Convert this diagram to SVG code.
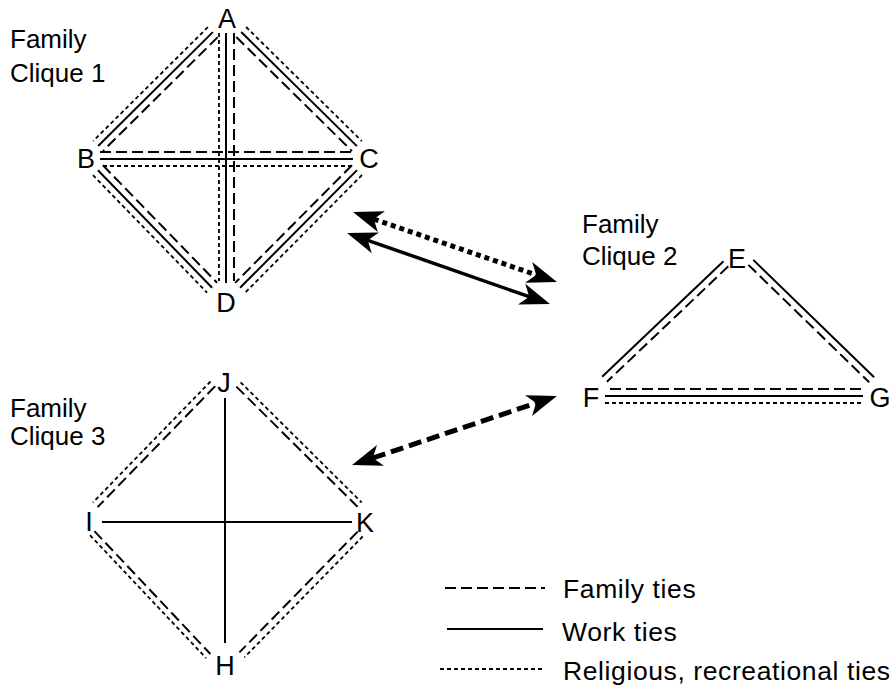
<svg xmlns="http://www.w3.org/2000/svg" width="893" height="693" viewBox="0 0 893 693">
<style>
text{font-family:"Liberation Sans",Arial,Helvetica,sans-serif;font-size:26px;fill:#000}
.lbl{text-anchor:middle;font-size:27px}
.leg{font-size:26.5px;letter-spacing:0.6px}
line{stroke:#000;fill:none}
.fam{stroke-width:2;stroke-dasharray:11 5}
.work{stroke-width:2}
.rel{stroke-width:1.8;stroke-dasharray:4 3}
.arr-dot{stroke-width:5;stroke-dasharray:5 4;marker-start:url(#ah);marker-end:url(#ah)}
.arr-solid{stroke-width:3.5;marker-start:url(#ah);marker-end:url(#ah)}
.arr-dash{stroke-width:5;stroke-dasharray:13 6;marker-start:url(#ah);marker-end:url(#ah)}
</style>
<defs>
<marker id="ah" markerUnits="userSpaceOnUse" markerWidth="32" markerHeight="24" viewBox="0 -12 32 24" refX="8" refY="0" orient="auto-start-reverse" overflow="visible">
<path d="M30,0 L0,-11 L8,0 L0,11 Z" fill="#000"/>
</marker>
</defs>
<rect x="0" y="0" width="893" height="693" fill="#fff"/>

<g id="titles">
<text x="10" y="48">Family</text>
<text x="10" y="82">Clique 1</text>
<text x="582" y="233">Family</text>
<text x="582" y="265">Clique 2</text>
<text x="10" y="417">Family</text>
<text x="10" y="445">Clique 3</text>
</g>

<g id="connectors">
<!-- Clique 1: A-B -->
<line class="rel" x1="207.9" y1="27.1" x2="93.2" y2="141"/>
<line class="work" x1="212.8" y1="32.1" x2="98.1" y2="146"/>
<line class="fam" x1="217.7" y1="37.1" x2="103" y2="151"/>
<!-- A-C -->
<line class="rel" x1="246.1" y1="27" x2="361.8" y2="141.1"/>
<line class="work" x1="241.2" y1="32" x2="356.9" y2="146.1"/>
<line class="fam" x1="236.3" y1="37" x2="352" y2="151.1"/>
<!-- B-D -->
<line class="rel" x1="92.9" y1="175.1" x2="207.1" y2="292.6"/>
<line class="work" x1="97.9" y1="170.2" x2="212.1" y2="287.7"/>
<line class="fam" x1="102.9" y1="165.3" x2="217.1" y2="282.8"/>
<!-- C-D -->
<line class="rel" x1="362" y1="175" x2="245.1" y2="292.7"/>
<line class="work" x1="357" y1="170.1" x2="240.1" y2="287.8"/>
<line class="fam" x1="352" y1="165.2" x2="235.1" y2="282.9"/>
<!-- B-C -->
<line class="fam" x1="100" y1="152" x2="352" y2="152"/>
<line class="work" x1="100" y1="159" x2="353" y2="159"/>
<line class="rel" x1="103" y1="166" x2="351" y2="166"/>
<!-- A-D -->
<line class="rel" x1="219" y1="33" x2="219" y2="281"/>
<line class="work" x1="226" y1="33" x2="226" y2="283"/>
<line class="fam" x1="234" y1="33" x2="234" y2="281"/>

<!-- Clique 2: E-F -->
<line class="work" x1="723.5" y1="261.2" x2="602.1" y2="376.7"/>
<line class="fam" x1="728.3" y1="266.3" x2="606.9" y2="381.8"/>
<!-- E-G -->
<line class="work" x1="753.3" y1="259.9" x2="874.1" y2="377.3"/>
<line class="fam" x1="748.4" y1="264.9" x2="869.2" y2="382.3"/>
<!-- F-G -->
<line class="fam" x1="610" y1="389" x2="863" y2="389"/>
<line class="work" x1="605" y1="396" x2="863" y2="396"/>
<line class="rel" x1="605" y1="403" x2="863" y2="403"/>

<!-- Clique 3: J-I -->
<line class="rel" x1="210.5" y1="381.5" x2="92.9" y2="502.5"/>
<line class="fam" x1="215.2" y1="386.1" x2="97.6" y2="507.1"/>
<!-- J-K -->
<line class="rel" x1="240.6" y1="382.3" x2="361.7" y2="502.5"/>
<line class="fam" x1="236.4" y1="386.6" x2="357.5" y2="506.8"/>
<!-- I-H -->
<line class="rel" x1="90" y1="535.2" x2="206.1" y2="658.1"/>
<line class="fam" x1="94.4" y1="531.1" x2="210.4" y2="654"/>
<!-- K-H -->
<line class="rel" x1="362.7" y1="536.5" x2="244.4" y2="657.3"/>
<line class="fam" x1="357.7" y1="531.6" x2="239.4" y2="652.4"/>
<!-- J-H, I-K -->
<line class="work" x1="225" y1="398" x2="225" y2="643"/>
<line class="work" x1="102" y1="522" x2="352" y2="522"/>

<!-- Between-clique arrows -->
<line class="arr-dot" x1="373.8" y1="219.1" x2="536.2" y2="274.9"/>
<line class="arr-solid" x1="367.8" y1="240.3" x2="529.2" y2="296.7"/>
<line class="arr-dash" x1="372.9" y1="458" x2="536.1" y2="403"/>
</g>

<g id="node-A"><text class="lbl" x="227" y="28">A</text></g>
<g id="node-B"><text class="lbl" x="86" y="168">B</text></g>
<g id="node-C"><text class="lbl" x="369" y="168">C</text></g>
<g id="node-D"><text class="lbl" x="226" y="312">D</text></g>
<g id="node-E"><text class="lbl" x="737" y="268">E</text></g>
<g id="node-F"><text class="lbl" x="591" y="407">F</text></g>
<g id="node-G"><text class="lbl" x="880" y="407">G</text></g>
<g id="node-J"><text class="lbl" x="224" y="392">J</text></g>
<g id="node-I"><text class="lbl" x="89" y="531">I</text></g>
<g id="node-K"><text class="lbl" x="365" y="532">K</text></g>
<g id="node-H"><text class="lbl" x="225" y="675">H</text></g>

<g id="legend">
<line class="fam" x1="445" y1="588" x2="545" y2="588"/>
<text class="leg" x="563" y="598">Family ties</text>
<line class="work" x1="447" y1="629" x2="543" y2="629"/>
<text class="leg" x="562" y="641">Work ties</text>
<line class="rel" x1="440" y1="669" x2="545" y2="669"/>
<text class="leg" x="563" y="680">Religious, recreational ties</text>
</g>
</svg>
